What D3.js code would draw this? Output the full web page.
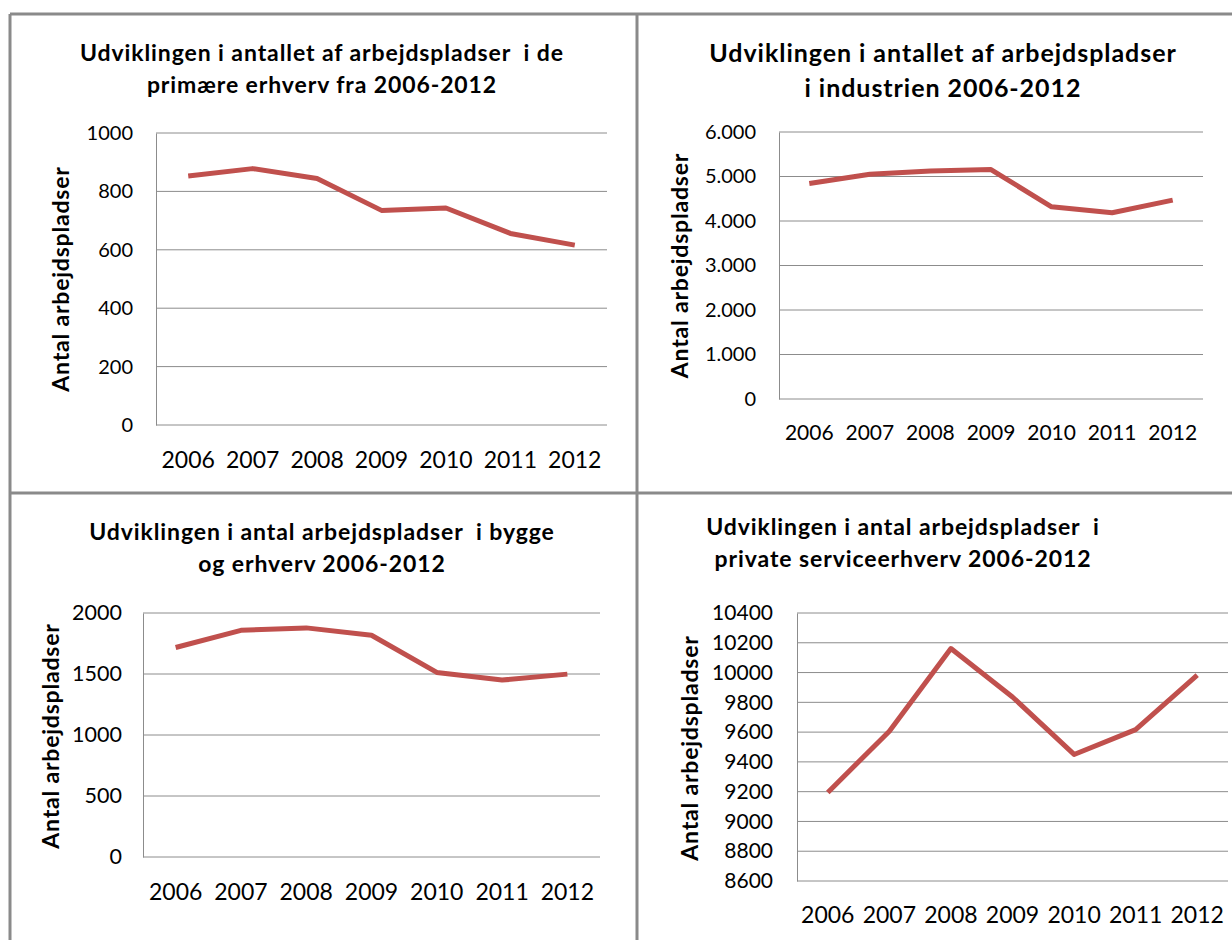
<!DOCTYPE html>
<html>
<head>
<meta charset="utf-8">
<script src="https://cdn.jsdelivr.net/npm/d3@7"></script>
<style>
  body { margin: 0; background: #fff; }
  text { font-family: Lato, "Open Sans", sans-serif; fill: #000; }
</style>
</head>
<body>
<svg id="chart"></svg>
<script>
const width = 1232;
const height = 940;

const years = ["2006", "2007", "2008", "2009", "2010", "2011", "2012"];

// values
const primaryValues = [853, 878, 844, 735, 743, 656, 616];
const industryValues = [4842, 5051, 5126, 5155, 4319, 4184, 4468];
const buildingValues = [1717, 1858, 1878, 1818, 1513, 1450, 1499];
const serviceValues = [9195, 9606, 10161, 9836, 9450, 9617, 9982];

const primaryTicks = [0, 200, 400, 600, 800, 1000];
const industryTicks = [0, 1000, 2000, 3000, 4000, 5000, 6000];
const buildingTicks = [0, 500, 1000, 1500, 2000];
const serviceTicks = [8600, 8800, 9000, 9200, 9400, 9600, 9800, 10000, 10200, 10400];

const primaryTitle = ["Udviklingen i antallet af arbejdspladser  i de", "primære erhverv fra 2006-2012"];
const industryTitle = ["Udviklingen i antallet af arbejdspladser", "i industrien 2006-2012"];
const buildingTitle = ["Udviklingen i antal arbejdspladser  i bygge", "og erhverv 2006-2012"];
const serviceTitle = ["Udviklingen i antal arbejdspladser  i", "private serviceerhverv 2006-2012"];

const yTitle = "Antal arbejdspladser";

const dk = d3.formatLocale({ decimal: ",", thousands: ".", grouping: [3], currency: ["", " kr"] });

const svg = d3.select("#chart").attr("width", width).attr("height", height);

function drawPanel(p) {
  const g = svg.append("g");

  const x = d3.scaleBand().domain(years).range([p.left, p.right]);
  const y = d3.scaleLinear().domain([p.ticks[0], p.ticks[p.ticks.length - 1]]).range([p.bottom, p.top]);

  // title
  g.selectAll(".title")
    .data(p.title)
    .enter()
    .append("text")
    .attr("x", p.titleX)
    .attr("y", (d, i) => p.titleY + i * p.titleGap)
    .attr("text-anchor", "middle")
    .style("white-space", "pre")
    .style("font-weight", "bold")
    .style("font-size", p.titleSize + "px")
    .style("letter-spacing", p.titleSpacing + "px")
    .text((d) => d);

  // gridlines
  g.append("g")
    .selectAll("line")
    .data(p.ticks)
    .enter()
    .append("line")
    .attr("x1", p.left)
    .attr("x2", p.right)
    .attr("y1", (d) => y(d))
    .attr("y2", (d) => y(d))
    .attr("stroke", "#8c8c8c")
    .attr("stroke-width", 1);

  // y axis
  const yAxis = d3.axisLeft(y).tickValues(p.ticks).tickSize(0).tickPadding(p.yPad).tickFormat(p.format);
  const ya = g.append("g").attr("transform", `translate(${p.left},0)`).call(yAxis);
  ya.select(".domain").attr("stroke", "#8c8c8c");
  ya.selectAll("text").style("font-size", p.yTickSize + "px").attr("fill", "#000");

  // x axis
  const xAxis = d3.axisBottom(x).tickSize(0).tickPadding(p.xPad);
  const xa = g.append("g").attr("transform", `translate(0,${p.bottom})`).call(xAxis);
  xa.select(".domain").remove();
  xa.selectAll("text").style("font-size", p.xTickSize + "px").attr("fill", "#000");

  // axis title
  g.append("text")
    .attr("transform", `translate(${p.yTitleX},${(p.top + p.bottom) / 2 + p.yTitleShift}) rotate(-90)`)
    .attr("text-anchor", "middle")
    .attr("dy", "0.35em")
    .style("font-weight", "bold")
    .style("font-size", "23px")
    .style("letter-spacing", "0.8px")
    .text(yTitle);

  // line
  const line = d3.line()
    .x((d, i) => x(years[i]) + x.bandwidth() / 2)
    .y((d) => y(d));

  g.append("path")
    .datum(p.values)
    .attr("d", line)
    .attr("fill", "none")
    .attr("stroke", "#c0504d")
    .attr("stroke-width", 5)
    .attr("stroke-linejoin", "round");
}

drawPanel({
  values: primaryValues, ticks: primaryTicks, title: primaryTitle, format: d3.format("d"),
  left: 156, right: 607, top: 133, bottom: 425,
  titleX: 322, titleY: 61, titleGap: 32, titleSize: 23, titleSpacing: 0.9,
  yTickSize: 20, xTickSize: 23, yPad: 23, xPad: 27,
  yTitleX: 61, yTitleShift: 0
});

drawPanel({
  values: industryValues, ticks: industryTicks, title: industryTitle, format: dk.format(","),
  left: 779, right: 1203, top: 132, bottom: 399,
  titleX: 943, titleY: 62, titleGap: 35, titleSize: 25, titleSpacing: 0.95,
  yTickSize: 20, xTickSize: 21, yPad: 23, xPad: 26,
  yTitleX: 680, yTitleShift: 0
});

drawPanel({
  values: buildingValues, ticks: buildingTicks, title: buildingTitle, format: d3.format("d"),
  left: 143, right: 600, top: 613, bottom: 857,
  titleX: 322, titleY: 540, titleGap: 32, titleSize: 23, titleSpacing: 0.9,
  yTickSize: 21.5, xTickSize: 23, yPad: 21, xPad: 27,
  yTitleX: 51, yTitleShift: 1
});

drawPanel({
  values: serviceValues, ticks: serviceTicks, title: serviceTitle, format: d3.format("d"),
  left: 797, right: 1228, top: 613, bottom: 881,
  titleX: 903, titleY: 535, titleGap: 32, titleSize: 23, titleSpacing: 0.9,
  yTickSize: 21, xTickSize: 23, yPad: 24, xPad: 26,
  yTitleX: 690, yTitleShift: 1
});

// panel frame lines
const frame = [
  [10, 14, width, 14],
  [10, 14, 10, height],
  [637, 14, 637, height],
  [10, 493, width, 493]
];
svg.append("g")
  .selectAll("line")
  .data(frame)
  .enter()
  .append("line")
  .attr("x1", (d) => d[0])
  .attr("y1", (d) => d[1])
  .attr("x2", (d) => d[2])
  .attr("y2", (d) => d[3])
  .attr("stroke", "#8a8a8a")
  .attr("stroke-width", 3);
</script>
</body>
</html>
